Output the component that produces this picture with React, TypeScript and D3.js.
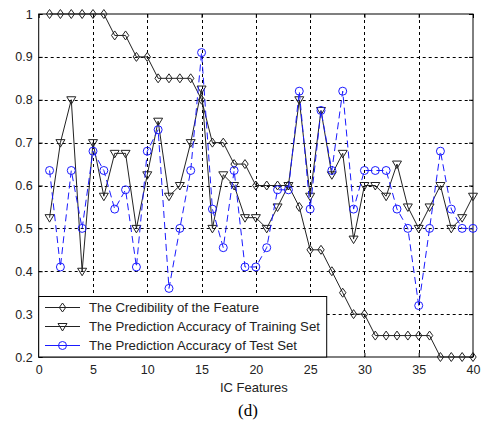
import { useRef, useEffect } from 'react';
import * as d3 from 'd3';

const features = d3.range(1, 41);

const credibility = [
  1, 1, 1, 1, 1, 1, 0.95, 0.95, 0.9, 0.9,
  0.85, 0.85, 0.85, 0.85, 0.8, 0.7, 0.7, 0.65, 0.65, 0.6,
  0.6, 0.6, 0.6, 0.55, 0.45, 0.45, 0.4, 0.35, 0.3, 0.3,
  0.25, 0.25, 0.25, 0.25, 0.25, 0.25, 0.2, 0.2, 0.2, 0.2,
];

const trainAcc = [
  0.525, 0.7, 0.8, 0.4, 0.7, 0.575, 0.675, 0.675, 0.5, 0.625,
  0.75, 0.575, 0.6, 0.7, 0.825, 0.5, 0.625, 0.6, 0.525, 0.525,
  0.5, 0.55, 0.6, 0.8, 0.575, 0.775, 0.625, 0.675, 0.475, 0.6,
  0.6, 0.575, 0.65, 0.55, 0.5, 0.55, 0.6, 0.5, 0.525, 0.575,
];

const testAcc = [
  0.635, 0.41, 0.635, 0.5, 0.68, 0.635, 0.545, 0.59, 0.41, 0.68,
  0.73, 0.36, 0.5, 0.635, 0.91, 0.545, 0.455, 0.635, 0.41, 0.41,
  0.455, 0.59, 0.59, 0.82, 0.545, 0.775, 0.635, 0.82, 0.545, 0.635,
  0.635, 0.635, 0.545, 0.5, 0.32, 0.5, 0.68, 0.545, 0.5, 0.5,
];

const xTicks = [0, 5, 10, 15, 20, 25, 30, 35, 40];
const yTicks = [0.2, 0.3, 0.4, 0.5, 0.6, 0.7, 0.8, 0.9, 1];

const legendLabels = [
  'The Credibility of the Feature',
  'The Prediction Accuracy of Training Set',
  'The Prediction Accuracy of Test Set',
];

const FONT = '"Liberation Sans", Arial, sans-serif';

export default function App() {
  const ref = useRef<SVGSVGElement>(null);
  const width = 484;
  const height = 427;

  useEffect(() => {
    if (!ref.current) return;
    const svg = d3.select(ref.current);
    svg.selectAll('*').remove();

    const margin = { top: 14, right: 11, bottom: 70, left: 38.7 };
    const x = d3.scaleLinear().domain([0, 40]).range([margin.left, width - margin.right]);
    const y = d3.scaleLinear().domain([0.2, 1]).range([height - margin.bottom, margin.top]);
    const [x0, x1] = x.range();
    const [y0, y1] = y.range();

    svg.append('rect').attr('width', width).attr('height', height).attr('fill', '#fff');

    // grid
    const grid = svg.append('g').attr('stroke', '#000').attr('stroke-width', 1).attr('stroke-dasharray', '3,3');
    grid.selectAll('line.v')
      .data(xTicks.slice(1, -1))
      .join('line')
      .attr('x1', d => Math.round(x(d)) + 0.5)
      .attr('x2', d => Math.round(x(d)) + 0.5)
      .attr('y1', y1)
      .attr('y2', y0);
    grid.selectAll('line.h')
      .data(yTicks.slice(1, -1))
      .join('line')
      .attr('class', 'h')
      .attr('x1', x0)
      .attr('x2', x1)
      .attr('y1', d => Math.round(y(d)) + 0.5)
      .attr('y2', d => Math.round(y(d)) + 0.5);

    // axes
    const xAxis = svg.append('g')
      .attr('transform', `translate(0,${y0})`)
      .call(d3.axisBottom(x).tickValues(xTicks).tickSize(-4).tickPadding(8).tickFormat(d3.format('d')));
    const yAxis = svg.append('g')
      .attr('transform', `translate(${x0},0)`)
      .call(d3.axisLeft(y).tickValues(yTicks).tickSize(-4).tickPadding(6).tickFormat(d => String(+d)));
    for (const ax of [xAxis, yAxis]) {
      ax.select('.domain').remove();
      ax.selectAll('text').attr('font-family', FONT).attr('font-size', 12.5).attr('fill', '#222');
      ax.selectAll('line').attr('stroke', '#000');
    }
    svg.append('g')
      .attr('transform', `translate(0,${y1})`)
      .call(d3.axisTop(x).tickValues(xTicks).tickSize(-4).tickFormat(() => ''))
      .call(g => g.select('.domain').remove());
    svg.append('g')
      .attr('transform', `translate(${x1},0)`)
      .call(d3.axisRight(y).tickValues(yTicks).tickSize(-4).tickFormat(() => ''))
      .call(g => g.select('.domain').remove());

    svg.append('rect')
      .attr('x', x0).attr('y', y1)
      .attr('width', x1 - x0).attr('height', y0 - y1)
      .attr('fill', 'none').attr('stroke', '#000').attr('stroke-width', 1);

    const diamond = (cx: number, cy: number) =>
      `M${cx},${cy - 4.5}L${cx + 3.2},${cy}L${cx},${cy + 4.5}L${cx - 3.2},${cy}Z`;
    const triangle = (cx: number, cy: number) =>
      `M${cx - 4.5},${cy - 3}L${cx + 4.5},${cy - 3}L${cx},${cy + 4.5}Z`;

    const series = [
      { values: credibility, color: '#222', dash: null, marker: 'diamond' },
      { values: trainAcc, color: '#222', dash: null, marker: 'triangle' },
      { values: testAcc, color: '#1a1aff', dash: '7,4', marker: 'circle' },
    ];

    const drawMarker = (g: any, marker: string, cx: number, cy: number, color: string) => {
      if (marker === 'circle') {
        g.append('circle').attr('cx', cx).attr('cy', cy).attr('r', 4)
          .attr('fill', 'none').attr('stroke', color).attr('stroke-width', 1);
      } else {
        g.append('path').attr('d', marker === 'diamond' ? diamond(cx, cy) : triangle(cx, cy))
          .attr('fill', 'none').attr('stroke', color).attr('stroke-width', 1);
      }
    };

    const line = d3.line<number>().x((_, i) => x(features[i])).y(d => y(d));

    series.forEach(s => {
      const g = svg.append('g');
      g.append('path')
        .attr('d', line(s.values))
        .attr('fill', 'none')
        .attr('stroke', s.color)
        .attr('stroke-width', 1)
        .attr('stroke-dasharray', s.dash);
      s.values.forEach((v, i) => drawMarker(g, s.marker, x(features[i]), y(v), s.color));
    });

    // legend
    const lg = svg.append('g');
    lg.append('rect')
      .attr('x', x0).attr('y', 296.5)
      .attr('width', 288).attr('height', y0 - 296.5)
      .attr('fill', '#fff').attr('stroke', '#000').attr('stroke-width', 1);
    series.forEach((s, i) => {
      const ly = 307.5 + i * 19;
      lg.append('line')
        .attr('x1', 45).attr('x2', 80).attr('y1', ly).attr('y2', ly)
        .attr('stroke', s.color).attr('stroke-width', 1);
      drawMarker(lg, s.marker, 62.5, ly, s.color);
      lg.append('text')
        .attr('x', 89).attr('y', ly).attr('dy', '0.35em')
        .attr('font-family', FONT).attr('font-size', 13.2).attr('fill', '#222')
        .text(legendLabels[i]);
    });

    svg.append('text')
      .attr('x', (x0 + x1) / 2 - 2).attr('y', 387).attr('dy', '0.35em')
      .attr('text-anchor', 'middle')
      .attr('font-family', FONT).attr('font-size', 13).attr('fill', '#222')
      .text('IC Features');

    svg.append('text')
      .attr('x', 248).attr('y', 410).attr('dy', '0.35em')
      .attr('text-anchor', 'middle')
      .attr('font-family', '"Liberation Serif", "Times New Roman", serif').attr('font-size', 17).attr('fill', '#000')
      .text('(d)');
  }, []);

  return (
    <svg
      ref={ref}
      width={width}
      height={height}
      style={{ position: 'absolute', left: 0, top: 0 }}
    />
  );
}
